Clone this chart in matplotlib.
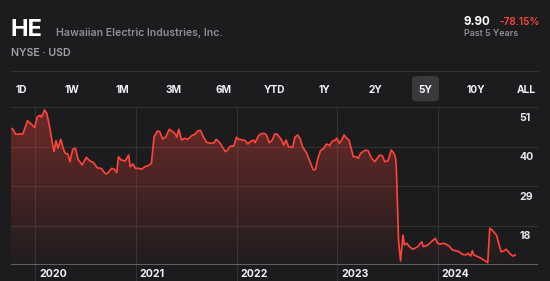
import matplotlib
matplotlib.use("Agg")
import matplotlib.pyplot as plt
import numpy as np
from matplotlib.patches import FancyBboxPatch
from matplotlib.lines import Line2D

# --- data ---
years = [
    2019.758, 2019.778, 2019.805, 2019.859, 2019.876, 2019.922, 2019.949, 2019.993,
    2020.020, 2020.047, 2020.061, 2020.091, 2020.114, 2020.141, 2020.169, 2020.185,
    2020.205, 2020.225, 2020.253, 2020.276, 2020.296, 2020.323, 2020.343, 2020.371,
    2020.397, 2020.424, 2020.465, 2020.505, 2020.538, 2020.579, 2020.613, 2020.657,
    2020.690, 2020.710, 2020.758, 2020.785, 2020.808, 2020.825, 2020.852, 2020.892,
    2020.926, 2020.942, 2020.970, 2020.993, 2021.027, 2021.054, 2021.088, 2021.128,
    2021.152, 2021.179, 2021.212, 2021.235, 2021.263, 2021.296, 2021.330, 2021.364,
    2021.391, 2021.404, 2021.424, 2021.452, 2021.482, 2021.515, 2021.548, 2021.583,
    2021.616, 2021.641, 2021.667, 2021.700, 2021.740, 2021.775, 2021.795, 2021.835,
    2021.886, 2021.909, 2021.936, 2021.970, 2021.997, 2022.019, 2022.061, 2022.085,
    2022.110, 2022.133, 2022.166, 2022.182, 2022.214, 2022.237, 2022.270, 2022.295,
    2022.321, 2022.353, 2022.377, 2022.399, 2022.441, 2022.467, 2022.490, 2022.513,
    2022.555, 2022.577, 2022.604, 2022.630, 2022.652, 2022.694, 2022.727, 2022.759,
    2022.782, 2022.805, 2022.831, 2022.864, 2022.889, 2022.922, 2022.944, 2022.977,
    2022.993, 2023.020, 2023.042, 2023.065, 2023.092, 2023.114, 2023.131, 2023.157,
    2023.183, 2023.207, 2023.229, 2023.281, 2023.305, 2023.338, 2023.370, 2023.419,
    2023.446, 2023.469, 2023.502, 2023.534, 2023.561, 2023.577, 2023.584, 2023.606,
    2023.626, 2023.650, 2023.665, 2023.689, 2023.715, 2023.748, 2023.797, 2023.837,
    2023.852, 2023.896, 2023.945, 2023.971, 2023.994, 2024.020, 2024.059, 2024.108,
    2024.142, 2024.174, 2024.207, 2024.240, 2024.273, 2024.295, 2024.322, 2024.339,
    2024.354, 2024.394, 2024.437, 2024.469, 2024.492, 2024.512, 2024.535, 2024.578,
    2024.624, 2024.650, 2024.676, 2024.716, 2024.742, 2024.765,
]
prices = [
    45.12, 44.85, 43.45, 43.54, 43.54, 47.24, 46.52, 45.40,
    48.35, 48.74, 48.19, 50.22, 49.30, 45.57, 40.95, 38.61,
    41.67, 39.55, 42.06, 39.55, 38.16, 37.97, 35.82, 39.28,
    39.55, 36.49, 34.90, 37.05, 36.10, 35.54, 34.15, 33.90,
    32.59, 32.40, 33.98, 33.71, 32.76, 37.22, 36.30, 36.02,
    37.69, 34.43, 35.18, 33.98, 33.98, 33.71, 34.43, 34.82,
    35.38, 42.78, 44.37, 44.18, 42.14, 42.78, 44.85, 44.18,
    43.45, 42.62, 44.85, 41.87, 42.34, 42.06, 42.98, 43.45,
    44.46, 44.46, 42.78, 41.23, 40.95, 41.11, 42.06, 40.95,
    38.61, 39.08, 40.20, 40.20, 42.62, 42.06, 41.87, 41.67,
    40.75, 41.39, 41.87, 41.11, 42.98, 43.54, 43.73, 43.26,
    41.11, 41.87, 43.54, 43.54, 42.06, 40.47, 41.87, 40.00,
    39.83, 42.62, 43.26, 42.14, 40.00, 38.16, 35.82, 33.51,
    33.71, 36.77, 38.89, 39.55, 40.75, 40.28, 41.39, 41.87,
    42.34, 40.95, 41.87, 43.26, 42.34, 41.87, 40.00, 37.22,
    37.22, 36.77, 38.16, 39.08, 38.80, 36.77, 35.82, 37.69,
    37.41, 35.82, 36.10, 39.08, 38.16, 36.77, 34.43, 14.02,
    8.17, 15.41, 12.62, 13.10, 12.15, 11.43, 12.15, 13.54,
    12.15, 12.62, 13.82, 14.49, 13.10, 12.90, 13.10, 12.35,
    11.23, 11.04, 10.76, 10.04, 9.84, 10.31, 9.56, 11.04,
    9.84, 9.37, 8.73, 8.17, 7.70, 17.28, 16.80, 15.41,
    10.76, 10.95, 11.43, 10.12, 9.56, 9.84,
]
tick_years = [2020, 2021, 2022, 2023, 2024]
tick_prices = [51, 40, 29, 18]
ranges = ["1D", "1W", "1M", "3M", "6M", "YTD", "1Y", "2Y", "5Y", "10Y", "ALL"]
active_range = "5Y"
symbol = "HE"
company = "Hawaiian Electric Industries, Inc."
exchange = "NYSE · USD"
last_price = "9.90"
change = "-78.15%"
period = "Past 5 Years"

BG = "#1c1c1e"
RED = "#ff453a"
W, H = 550, 281

plt.rcParams["font.family"] = ["Inter", "DejaVu Sans"]

fig = plt.figure(figsize=(W / 100, H / 100), dpi=100, facecolor=BG)

def fx(px):
    return px / W

def fy(py):
    return 1 - py / H

# header
fig.text(fx(10), fy(36.5), symbol, color="white", fontsize=17, fontweight="bold", va="baseline")
fig.text(fx(56), fy(36.5), company, color="#8e8e93", fontsize=7.6, fontweight="semibold", va="baseline")
fig.text(fx(11), fy(56.5), exchange, color="#a1a1a6", fontsize=7.6, fontweight="semibold", va="baseline")
fig.text(fx(464), fy(25), last_price, color="white", fontsize=8.3, fontweight="bold", va="baseline")
fig.text(fx(499), fy(25), change, color=RED, fontsize=7.2, fontweight="semibold", va="baseline")
fig.text(fx(464), fy(36), period, color="#8e8e93", fontsize=6.4, fontweight="semibold", va="baseline")

fig.add_artist(Line2D([fx(11), fx(537.7)], [fy(70.7), fy(70.7)], color="#323234", lw=0.8))

# range selector
for i, r in enumerate(ranges):
    cx = 21.5 + 50.5 * i
    if r == active_range:
        box = FancyBboxPatch((fx(cx - 13.5), fy(101.5)), fx(27), 25.5 / H,
                             boxstyle="round,pad=0,rounding_size=0.012",
                             transform=fig.transFigure, facecolor="#3a3a3c",
                             edgecolor="none")
        fig.add_artist(box)
    fig.text(fx(cx), fy(93.3), r, color="#f2f2f7", fontsize=7.3, fontweight="bold",
             ha="center", va="baseline")

# chart
ax = fig.add_axes([fx(11), fy(265.2), fx(526.7), 158 / H])
ax.set_facecolor(BG)
x0, x1 = 2019.758, 2024.988
y0, y1 = 7, 51
ax.set_xlim(x0, x1)
ax.set_ylim(y0, y1)
for s in ax.spines.values():
    s.set_visible(False)
ax.set_xticks([])
ax.set_yticks([])

for p in tick_prices:
    ax.axhline(p, color="#323234", lw=0.8, zorder=1)
ax.axhline(y0, color="#6e6e70", lw=1.2, zorder=4)
for yr in tick_years:
    ax.axvline(yr, ymin=-0.11, ymax=1, color="#323234", lw=0.8, zorder=1, clip_on=False)
    ax.text(yr + 0.035, -0.077, str(yr), transform=ax.get_xaxis_transform(),
            color="#f2f2f7", fontsize=7.6, fontweight="bold", va="baseline")
for p in tick_prices:
    ax.text(0.966, p - 2.9, str(p), transform=ax.get_yaxis_transform(),
            color="#e5e5ea", fontsize=7.6, fontweight="bold", va="center")

# gradient fill under the line
poly = ax.fill_between(years, prices, y0, facecolor="none", edgecolor="none")
grad = np.zeros((256, 1, 4))
grad[:, 0, 0:3] = matplotlib.colors.to_rgb(RED)
grad[:, 0, 3] = np.linspace(0.36, 0.02, 256)
im = ax.imshow(grad, extent=[x0, x1, y0, y1], origin="upper", aspect="auto", zorder=2)
im.set_clip_path(poly.get_paths()[0], transform=ax.transData)

ax.plot(years, prices, color=RED, lw=1.2, zorder=3, solid_joinstyle="round")

fig.savefig("out.png", dpi=100, facecolor=BG)
